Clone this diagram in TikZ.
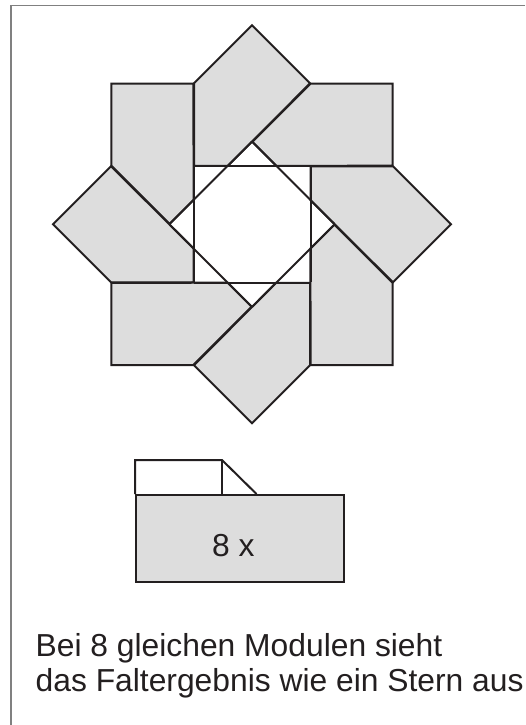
\documentclass[tikz,border=0pt]{standalone}
\usepackage{fontspec}
\setmainfont{Liberation Sans}
\definecolor{faltgrau}{HTML}{DDDDDD}
\definecolor{faltlinie}{HTML}{231F20}
\tikzset{
    modul/.style={draw=faltlinie,fill=faltgrau,line width=2pt,line join=miter},
    kante/.style={draw=faltlinie,line width=2pt},
    rahmen/.style={draw=gray,line width=1.5pt},
    schrift/.style={text=faltlinie,font=\fontsize{31.8}{35}\selectfont,inner sep=0pt}
}
\begin{document}
\begin{tikzpicture}[x=1pt,y=-1pt]
    \useasboundingbox (0,0) rectangle (525,725);

    % Rahmen
    \draw[rahmen] (525,5.5) -- (11,5.5) -- (11,725);

    % Stern aus 8 Modulen
    \begin{scope}[shift={(252,224.3)}]
        \foreach \w in {0,45,...,315} {
            \draw[modul,rotate=\w] (-58,-141) -- (0,-199) -- (58,-141) -- (-24,-58.5) -- (-58,-58.5) -- cycle;
        }
        \foreach \w in {0,45,...,315} {
            \draw[kante,rotate=\w] (-58,-58.5) -- (58,-58.5);
        }
    \end{scope}

    % Einzelnes Modul
    \draw[kante,fill=white] (135,494) -- (135,460) -- (222,460) -- (256.5,494);
    \draw[kante] (222,460) -- (222,494);
    \node[modul,minimum width=208pt,minimum height=86.5pt,inner sep=0pt,anchor=north west] (modul) at (135,494) {};
    \node[schrift,anchor=base] (anzahl) at (233.4,556.5) {8 x};

    % Text
    \node[schrift,anchor=base west] (zeile1) at (35.5,656) {Bei 8 gleichen Modulen sieht};
    \node[schrift,anchor=base west] (zeile2) at (35.5,691) {das Faltergebnis wie ein Stern aus};
\end{tikzpicture}
\end{document}
